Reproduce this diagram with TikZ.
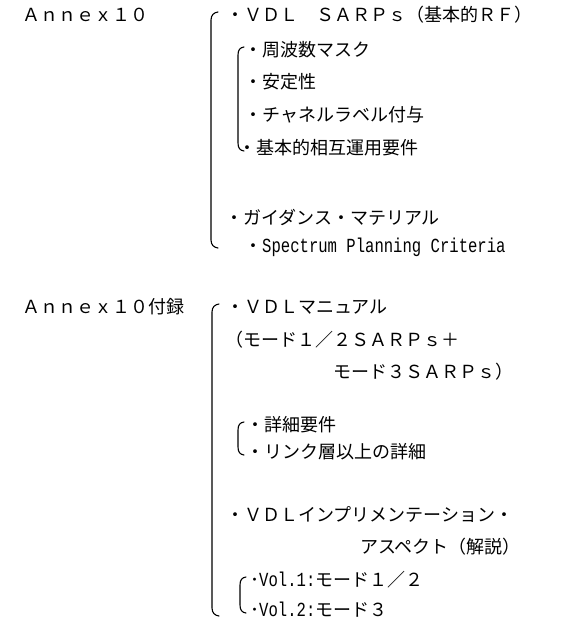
\documentclass[tikz,border=0pt]{standalone}
\usepackage{fontspec}
\setmainfont{Noto Sans CJK JP}
\newfontfamily\monofnt[FakeStretch=0.78]{Liberation Mono}
\usepackage{tikz}

\tikzset{
  item/.style={anchor=west,inner sep=0pt},
  brk/.style={line width=1.1pt,line cap=round}
}
\newcommand{\halfw}[1]{{\monofnt\fontsize{20}{22}\selectfont #1}}

\begin{document}
\begin{tikzpicture}[x=1pt,y=-1pt]
\fontsize{18}{20}\selectfont
\useasboundingbox (0,0) rectangle (570,628);

% Annex10
\node[item] (a) at (22,15) {Ａｎｎｅｘ１０};

\draw[brk] (218,12) .. controls (214,12.5) and (211,15) .. (211,20) -- (211,240) .. controls (211,245) and (214,247.5) .. (218,248);
\node[item] (a1) at (226,15) {・ＶＤＬ　ＳＡＲＰｓ（基本的ＲＦ）};

\draw[brk] (244,47) .. controls (240,47.5) and (238,50) .. (238,55) -- (238,143) .. controls (238,148) and (240,150.5) .. (244,151);
\node[item] (a11) at (244,50) {・周波数マスク};
\node[item] (a12) at (244,82) {・安定性};
\node[item] (a13) at (244,115) {・チャネルラベル付与};
\node[item] (a14) at (238,148) {・基本的相互運用要件};

\node[item] (a2) at (225,217) {・ガイダンス・マテリアル};
\node[item] (a21) at (244,247) {・\halfw{Spectrum Planning Criteria}};

% Annex10付録
\node[item] (b) at (22,307) {Ａｎｎｅｘ１０付録};

\draw[brk] (219,304) .. controls (215,304.5) and (212,307) .. (212,312) -- (212,608) .. controls (212,613) and (215,615.5) .. (219,616);
\node[item] (b1) at (226,307) {・ＶＤＬマニュアル};
\node[item] (b1a) at (225,340) {（モード１／２ＳＡＲＰｓ＋};
\node[item] (b1b) at (333,372) {モード３ＳＡＲＰｓ）};

\draw[brk] (244,422) .. controls (240,422.5) and (238,425) .. (238,430) -- (238,447) .. controls (238,452) and (240,454.5) .. (244,455);
\node[item] (b11) at (246,425) {・詳細要件};
\node[item] (b12) at (246,452) {・リンク層以上の詳細};

\node[item] (b2) at (226,515) {・ＶＤＬインプリメンテーション・};
\node[item] (b2a) at (360,547) {アスペクト（解説）};

\draw[brk] (246,577) .. controls (242,577.5) and (240,580) .. (240,585) -- (240,605) .. controls (240,610) and (242,612.5) .. (246,613);
\node[item] (b21) at (250,580) {･\halfw{Vol.1:}モード１／２};
\node[item] (b22) at (250,610) {･\halfw{Vol.2:}モード３};
\end{tikzpicture}
\end{document}
